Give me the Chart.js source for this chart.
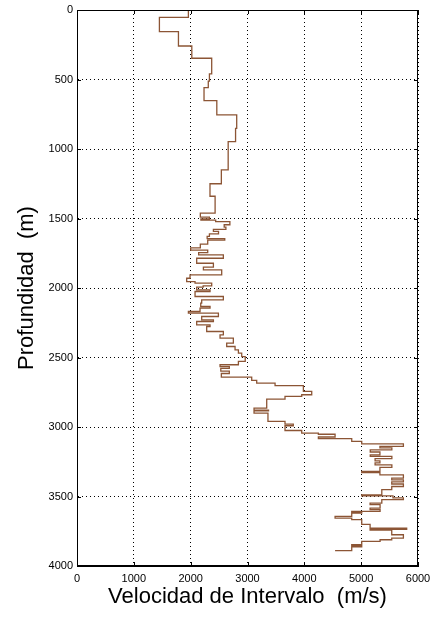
<!DOCTYPE html>
<html>
<head>
<meta charset="utf-8">
<script src="https://cdn.jsdelivr.net/npm/chart.js@4"></script>
<style>
  body { margin: 0; background: #fff; }
  #wrap { width: 430px; height: 617px; }
</style>
</head>
<body>
<div id="wrap"><canvas id="vel-chart"></canvas></div>
<script>
// layer tops (m) and interval velocity (m/s) for each layer
const depthTop = [
  0, 53, 156, 259, 347, 460, 511, 558, 652, 755, 851, 947, 1150, 1250, 1340,
  1462, 1490, 1502, 1512, 1522, 1545, 1562, 1578, 1592, 1610, 1628, 1645, 1655,
  1685, 1712, 1728, 1745, 1762, 1786, 1822, 1850, 1870, 1906, 1930, 1954, 1965,
  1985, 1994, 2013, 2025, 2061, 2085, 2109, 2133, 2145, 2169, 2181, 2205, 2229,
  2241, 2265, 2277, 2313, 2337, 2361, 2397, 2421, 2445, 2469, 2493,
  2528, 2552, 2565, 2578, 2598, 2615, 2641, 2665, 2684, 2703, 2744, 2768, 2780,
  2799, 2864, 2878, 2884, 2900, 2960, 2979, 2991, 3025, 3044, 3052, 3072, 3084,
  3103, 3122, 3140, 3150, 3165, 3180, 3200, 3212, 3228, 3243, 3258, 3272, 3291,
  3320, 3328, 3344, 3368, 3380, 3395, 3410, 3428, 3451, 3488, 3495, 3510, 3523,
  3547, 3559, 3583, 3595, 3607, 3612, 3619, 3643, 3655, 3667, 3700, 3727, 3737,
  3742, 3775, 3799, 3811, 3823, 3847, 3855, 3862, 3890
];
const velocity = [
  1960, 1450, 1785, 2020, 2370, 2330, 2310, 2235, 2460, 2810, 2790, 2660, 2540, 2340, 2430,
  2170, 2330, 2180, 2440, 2690, 2590, 2620, 2400, 2490, 2330, 2290, 2600, 2300,
  2170, 2000, 2300, 2140, 2575, 2106, 2400, 2224, 2546, 1989, 1930, 2077, 2370,
  2220, 2106, 2341, 2077, 2575, 2194, 2177, 2341, 2165, 1960, 2488, 2194, 2400,
  2106, 2341, 2282, 2575, 2517, 2751, 2634, 2781, 2840, 2898, 2960,
  2840, 2517, 2680, 2530, 2680, 2540, 3074, 3162, 3485, 3983, 4130, 3954, 3660,
  3338, 3115, 3370, 3115, 3360, 3660, 3806, 3660, 3954, 4247, 4541, 4247, 4834,
  5010, 5743, 5330, 5540, 5160, 5330, 5160, 5540, 5245, 5330, 5245, 5540, 5330,
  5010, 5330, 5743, 5538, 5743, 5538, 5743, 5538, 5363, 5010, 5560, 5743, 5363,
  5157, 5333, 5157, 5333, 4834, 5010, 4834, 4541, 4834, 5010, 5157, 5801, 5157,
  5538, 5743, 5538, 5333, 5010, 4834, 5010, 4834, 4541
];

const xTickValues = [0, 1000, 2000, 3000, 4000, 5000, 6000];
const yTickValues = [0, 500, 1000, 1500, 2000, 2500, 3000, 3500, 4000];

const points = depthTop.map((d, i) => ({ x: velocity[i], y: d }));

// box around the plot plus small inward ticks, matlab style
const framePlugin = {
  id: 'frame',
  afterDraw(chart) {
    const { ctx, chartArea: a, scales } = chart;
    ctx.save();
    ctx.strokeStyle = '#000';
    ctx.lineWidth = 1;
    ctx.strokeRect(a.left + 0.5, a.top + 0.5, a.right - a.left - 1, a.bottom - a.top - 1);
    ctx.beginPath();
    xTickValues.forEach(v => {
      const px = Math.round(scales.x.getPixelForValue(v)) + 0.5;
      ctx.moveTo(px, a.bottom); ctx.lineTo(px, a.bottom - 4);
      ctx.moveTo(px, a.top); ctx.lineTo(px, a.top + 4);
    });
    yTickValues.forEach(v => {
      const py = Math.round(scales.y.getPixelForValue(v)) + 0.5;
      ctx.moveTo(a.left, py); ctx.lineTo(a.left + 4, py);
      ctx.moveTo(a.right, py); ctx.lineTo(a.right - 4, py);
    });
    ctx.stroke();
    ctx.restore();
  }
};

const tickFont = { family: "'Liberation Sans', Arial, sans-serif", size: 11 };
const titleFont = { family: "'Liberation Sans', Arial, sans-serif", size: 22 };

const velCtx = document.getElementById('vel-chart').getContext('2d');
new Chart(velCtx, {
  type: 'scatter',
  data: {
    datasets: [{
      data: points,
      showLine: true,
      stepped: 'after',
      borderColor: '#8c5535',
      borderWidth: 1.3,
      pointRadius: 0,
      fill: false,
    }]
  },
  options: {
    responsive: true,
    maintainAspectRatio: false,
    animation: false,
    layout: { padding: { top: 10, right: 12, left: 0, bottom: 0 } },
    plugins: { legend: { display: false }, tooltip: { enabled: false } },
    scales: {
      x: {
        type: 'linear',
        min: 0,
        max: 6000,
        afterBuildTicks: (s) => { s.ticks = xTickValues.map(v => ({ value: v })); },
        afterFit: (s) => { s.height = 51; s.paddingLeft = 0; s.paddingRight = 0; },
        ticks: { color: '#000', font: tickFont, padding: 6, maxRotation: 0, callback: (v) => String(v) },
        grid: { color: '#000', lineWidth: 1, drawTicks: false },
        border: { color: '#000', dash: [1, 3] },
        title: { display: true, text: 'Velocidad de Intervalo  (m/s)', color: '#000', font: titleFont, padding: { top: 0, bottom: 7 } }
      },
      y: {
        type: 'linear',
        reverse: true,
        min: 0,
        max: 4000,
        afterBuildTicks: (s) => { s.ticks = yTickValues.map(v => ({ value: v })); },
        afterFit: (s) => { s.width = 77; s.paddingTop = 0; s.paddingBottom = 0; },
        ticks: { color: '#000', font: tickFont, padding: 4, callback: (v) => String(v) },
        grid: { color: '#000', lineWidth: 1, drawTicks: false },
        border: { color: '#000', dash: [1, 3] },
        title: { display: true, text: 'Profundidad  (m)', color: '#000', font: titleFont, padding: { top: 14, bottom: 0 } }
      }
    }
  },
  plugins: [framePlugin]
});
</script>
</body>
</html>
